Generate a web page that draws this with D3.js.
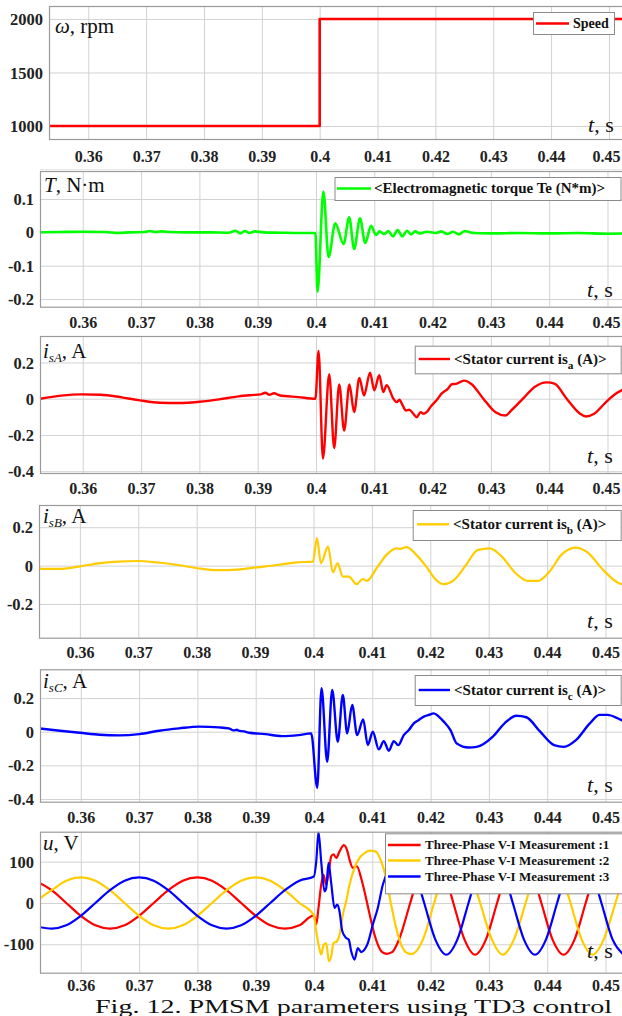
<!DOCTYPE html>
<html><head><meta charset="utf-8">
<script src="https://cdn.jsdelivr.net/npm/d3@7"></script>
<style>body{margin:0;background:#fff}svg{display:block}</style>
</head><body><svg id="c" width="622" height="1016"></svg>
<script>
// ---------------- data ----------------
const tickX = [0.36,0.37,0.38,0.39,0.40,0.41,0.42,0.43,0.44,0.45];
const tickXLabels = ["0.36","0.37","0.38","0.39","0.4","0.41","0.42","0.43","0.44","0.45"];

const speedTicks = [1000,1500,2000];
const torqueTicks = [-0.2,-0.1,0,0.1];
const isATicks = [-0.4,-0.2,0,0.2];
const isBTicks = [-0.2,0,0.2];
const isCTicks = [-0.4,-0.2,0,0.2];
const uTicks = [-100,0,100];

const speed = [[0.3527,1000],[0.4,1000],[0.4,2000],[0.4530,2000]];

const torque = [[0.3527,0.000],[0.356,0.001],[0.36,0.002],[0.364,0.001],[0.366,-0.002],[0.368,0],[0.3705,0.001],[0.3715,0.004],[0.3725,0.001],[0.3735,0.003],[0.375,0.001],[0.378,0],[0.382,0],[0.385,-0.001],[0.3862,0.005],[0.387,-0.003],[0.3878,0.004],[0.3886,-0.002],[0.3895,0.003],[0.391,0],[0.394,-0.001],[0.397,-0.002],[0.3999,-0.002],
[0.40026,-0.178],[0.40127,0.122],[0.40216,-0.074],[0.40331,0.027],[0.40474,-0.035],[0.40569,0.045],[0.40655,-0.05],[0.40755,0.042],[0.40845,-0.032],[0.40945,0.02],[0.4103,-0.008],[0.4109,0.003],[0.4117,-0.005],[0.4124,0.004],[0.4132,-0.012],[0.4140,0.007],[0.4148,-0.012],[0.4156,0.005],[0.4163,-0.006],[0.4170,0.003],[0.4178,-0.003],[0.419,0.002],[0.4205,-0.002],[0.4215,0.003],[0.4225,-0.005],[0.4235,0.002],[0.4245,-0.006],[0.4255,0.004],[0.427,-0.002],[0.43,-0.003],[0.435,-0.002],[0.44,-0.003],[0.445,-0.002],[0.45,-0.004],[0.4530,-0.003]];

const isA = [[0.3527,0],[0.35628,0.017],[0.35967,0.024],[0.36305,0.022],[0.36643,0.009],[0.36983,-0.009],[0.37321,-0.022],[0.3766,-0.024],[0.37998,-0.017],[0.38338,-0.004],[0.38674,0.013],[0.389,0.02],[0.3905,0.024],[0.3913,0.033],[0.392,0.022],[0.3928,0.03],[0.3937,0.019],[0.397,0.009],[0.3999,0.0],
[0.40044,0.264],[0.40119,-0.33],[0.40227,0.135],[0.40312,-0.272],[0.40398,0.079],[0.40483,-0.176],[0.40573,0.079],[0.40654,-0.074],[0.40744,0.114],[0.40824,0.018],[0.40927,0.144],[0.41,0.046],[0.41085,0.129],[0.41154,0.037],[0.41212,0.074],[0.41328,0],[0.41385,-0.019],[0.4143,-0.006],[0.41487,-0.037],[0.41543,-0.065],[0.416,-0.061],[0.41669,-0.083],[0.41727,-0.102],[0.41795,-0.074],[0.4184,-0.083],[0.41898,-0.074],[0.41983,-0.037],[0.42068,-0.009],[0.42154,0.028],[0.42266,0.056],[0.4233,0.08],[0.4240,0.082],[0.4254,0.1],[0.4267,0.08],[0.4287,0],[0.4308,-0.075],[0.4325,-0.093],[0.4335,-0.065],[0.4355,0],[0.4375,0.065],[0.4396,0.09],[0.4409,0.083],[0.4430,0],[0.4453,-0.083],[0.4463,-0.098],[0.4477,-0.083],[0.4497,-0.02],[0.4514,0.027],[0.4530,0.055]];

const isB = [[0.3527,-0.005],[0.3535,-0.017],[0.35635,-0.017],[0.35976,-0.005],[0.36316,0.012],[0.36655,0.021],[0.36997,0.024],[0.37336,0.016],[0.37677,0.003],[0.38017,-0.014],[0.38358,-0.024],[0.38697,-0.021],[0.39038,-0.009],[0.39379,0.003],[0.39719,0.017],[0.39991,0.021],
[0.4006,0.143],[0.40127,0.012],[0.4025,0.099],[0.40331,-0.035],[0.40413,0.012],[0.40502,-0.057],[0.40604,-0.057],[0.4074,-0.097],[0.40842,-0.07],[0.40911,-0.08],[0.4108,-0.014],[0.4125,0.056],[0.4142,0.09],[0.41489,0.087],[0.4159,0.096],[0.41762,0.056],[0.41931,-0.005],[0.42101,-0.075],[0.42237,-0.097],[0.42408,-0.075],[0.42612,0.003],[0.42816,0.082],[0.4302,0.09],[0.43225,0.047],[0.43463,-0.04],[0.43667,-0.08],[0.43837,-0.08],[0.44041,-0.031],[0.44245,0.056],[0.44484,0.094],[0.44688,0.07],[0.4496,-0.023],[0.45232,-0.092],[0.4530,-0.098]];

const isC = [[0.3527,0.02],[0.35643,0.006],[0.35984,-0.006],[0.36324,-0.018],[0.36664,-0.022],[0.37005,-0.014],[0.37345,0.006],[0.37686,0.02],[0.38026,0.03],[0.38367,0.026],[0.38537,0.02],[0.3862,0.008],[0.3868,0.012],[0.38705,0.006],[0.388,0.002],[0.3889,-0.006],[0.39163,-0.014],[0.39448,-0.026],[0.39734,-0.02],[0.39952,-0.01],
[0.40055,-0.333],[0.40129,0.258],[0.40226,-0.179],[0.40312,0.248],[0.40408,-0.06],[0.40494,0.218],[0.40569,-0.01],[0.40655,0.159],[0.4074,-0.02],[0.40843,0.073],[0.40922,-0.079],[0.41008,0],[0.41111,-0.105],[0.41197,-0.056],[0.41283,-0.113],[0.41369,-0.056],[0.41444,-0.08],[0.4154,-0.02],[0.41626,0.01],[0.41712,0.05],[0.41797,0.07],[0.41883,0.09],[0.41969,0.1],[0.42055,0.109],[0.4214,0.09],[0.42226,0.06],[0.42341,0.01],[0.42449,-0.07],[0.42655,-0.094],[0.4279,-0.09],[0.43063,-0.03],[0.43268,0.05],[0.43472,0.095],[0.43642,0.086],[0.4388,0],[0.44118,-0.08],[0.44288,-0.09],[0.44492,-0.05],[0.44731,0.05],[0.449,0.1],[0.45036,0.1],[0.45206,0.08],[0.4530,0.064]];

const u1 = [[0.3527,50],[0.355,31],[0.3575,0],[0.36,-31],[0.3625,-54],[0.365,-62],[0.3675,-54],[0.37,-31],[0.3725,0],[0.375,31],[0.3775,54],[0.38,62],[0.3825,54],[0.385,31],[0.3875,0],[0.39,-31],[0.3925,-54],[0.395,-62],[0.3975,-54],[0.39998,-30],
[0.40038,-52],[0.40077,-12],[0.40123,44],[0.40163,68],[0.40209,44],[0.40255,77],[0.40295,113],[0.40335,118],[0.40381,109],[0.40438,125],[0.40512,140],[0.40569,127],[0.40609,105],[0.40667,85],[0.40735,89],[0.40809,60],[0.40866,28],[0.40923,-8],[0.40981,-44],[0.41038,-77],[0.41095,-101],[0.41169,-119],[0.4125,-123],[0.4134,-119],[0.4146,-88],[0.4165,0],[0.4184,88],[0.42015,125],[0.4221,88],[0.4239,0],[0.4258,-88],[0.4276,-125],[0.4295,-88],[0.4314,0],[0.4333,88],[0.4352,125],[0.4371,88],[0.4390,0],[0.4409,-88],[0.4428,-125],[0.4447,-88],[0.4466,0],[0.4485,88],[0.4504,125],[0.4523,88],[0.4542,0]];

const u2 = [[0.3527,8],[0.355,31],[0.3575,54],[0.36,62],[0.3625,54],[0.365,31],[0.3675,0],[0.37,-31],[0.3725,-54],[0.375,-62],[0.3775,-54],[0.38,-31],[0.3825,0],[0.385,31],[0.3875,54],[0.39,62],[0.3925,54],[0.395,31],[0.3975,0],[0.39998,-30],
[0.40038,-69],[0.40084,-105],[0.40123,-125],[0.40163,-102],[0.40209,-97],[0.40255,-141],[0.40295,-129],[0.40335,-97],[0.40392,-93],[0.40438,-77],[0.40495,-28],[0.40552,4],[0.40609,44],[0.40695,85],[0.4078,109],[0.40866,121],[0.40952,127],[0.41055,125],[0.41152,101],[0.41238,60],[0.41323,-4],[0.41409,-60],[0.41495,-101],[0.41581,-120],[0.4167,-124],[0.4187,-88],[0.4206,0],[0.4226,88],[0.42455,125],[0.4265,88],[0.4285,0],[0.4305,-88],[0.4324,-125],[0.4343,-88],[0.4363,0],[0.4382,88],[0.4401,125],[0.4420,88],[0.4440,0],[0.4459,-88],[0.4478,-125],[0.4497,-88],[0.4517,0],[0.4536,88]];

const u3 = [[0.3527,-58],[0.355,-62],[0.3575,-54],[0.36,-31],[0.3625,0],[0.365,31],[0.3675,54],[0.37,62],[0.3725,54],[0.375,31],[0.3775,0],[0.38,-31],[0.3825,-54],[0.385,-62],[0.3875,-54],[0.39,-31],[0.3925,0],[0.395,31],[0.3975,54],[0.39998,64],
[0.40038,100],[0.40077,172],[0.40123,101],[0.4018,28],[0.40209,36],[0.40249,97],[0.40295,48],[0.40352,-12],[0.40398,-4],[0.40437,-20],[0.40484,-68],[0.40552,-85],[0.40597,-89],[0.40638,-117],[0.40695,-137],[0.40751,-109],[0.4081,-119],[0.40866,-113],[0.40923,-97],[0.41009,-52],[0.41094,-12],[0.4118,44],[0.41295,85],[0.4151,125],[0.4170,88],[0.4189,0],[0.4208,-88],[0.4227,-125],[0.4246,-88],[0.4265,0],[0.4284,88],[0.4303,125],[0.4322,88],[0.4341,0],[0.4360,-88],[0.4379,-125],[0.4398,-88],[0.4417,0],[0.4436,88],[0.4455,125],[0.4474,88],[0.4493,0],[0.4512,-88],[0.4531,-125]];

const legendTexts = {
  speed: "Speed",
  torque: "<Electromagnetic torque Te (N*m)>",
  u: ["Three-Phase V-I Measurement :1","Three-Phase V-I Measurement :2","Three-Phase V-I Measurement :3"]
};
const caption = "Fig. 12. PMSM parameters using TD3 control";

// ---------------- drawing ----------------
const FONT = "'Liberation Serif','Times New Roman',serif";
const RED = "#ff0000", GREEN = "#00ff00", YEL = "#ffcc00", BLUE = "#0000ff";
const svg = d3.select("#c");
const defs = svg.append("defs");

const panels = [
 {id:1, xd:[0.35321,0.45243], left:49, top:6, bottom:139, yd:[878.5,2121], yt:speedTicks, lab:23,
  series:[{d:speed,c:RED,w:2.6,curve:d3.curveLinear}], ylabel:[["ω","italic"],[", rpm","normal"]], yl:[55,33], tl:[588,132],
  legend:{box:[533,12,81,22], items:[{y:23.5,c:RED,t:[[legendTexts.speed]]}], lx:[536,569], tx:573, fs:14}},
 {id:2, xd:[0.35266,0.45266], left:40, top:171, bottom:306.7, yd:[-0.223,0.184], yt:torqueTicks, lab:21.5,
  series:[{d:torque,c:GREEN,w:2.6}], ylabel:[["T","italic"],[", N·m","normal"]], yl:[44,192], tl:[587,297],
  legend:{box:[334.5,177,286,23], items:[{y:188.5,c:GREEN,t:[[legendTexts.torque]]}], lx:[337,371], tx:374, fs:15}},
 {id:3, xd:[0.35266,0.45266], left:40, top:336, bottom:473, yd:[-0.41,0.346], yt:isATicks, lab:20.5,
  series:[{d:isA,c:RED,w:2.4}], ylabel:[["i","italic"],["sA","sub"],[", A","normal"]], yl:[43,358], tl:[587,463],
  legend:{box:[414.7,345.7,206,27.6], items:[{y:359,c:RED,t:[["<Stator current is"],["a","sub"],[" (A)>"]]}], lx:[418.7,450], tx:454, fs:15}},
 {id:4, xd:[0.35300,0.45300], left:39, top:505, bottom:637.7, yd:[-0.376,0.316], yt:isBTicks, lab:20.5,
  series:[{d:isB,c:YEL,w:2.2}], ylabel:[["i","italic"],["sB","sub"],[", A","normal"]], yl:[43,523], tl:[587,628],
  legend:{box:[412.7,510,208,30], items:[{y:524.3,c:YEL,t:[["<Stator current is"],["b","sub"],[" (A)>"]]}], lx:[417,449], tx:453, fs:15}},
 {id:5, xd:[0.35300,0.45300], left:40, top:669.3, bottom:801.7, yd:[-0.416,0.371], yt:isCTicks, lab:21.3,
  series:[{d:isC,c:BLUE,w:2.4}], ylabel:[["i","italic"],["sC","sub"],[", A","normal"]], yl:[43,688], tl:[587,792],
  legend:{box:[414.7,675,206,30], items:[{y:690,c:BLUE,t:[["<Stator current is"],["c","sub"],[" (A)>"]]}], lx:[418.7,450], tx:454, fs:15}},
 {id:6, xd:[0.35300,0.45300], left:40, top:831.7, bottom:972.7, yd:[-168.8,172.6], yt:uTicks, lab:18.5,
  series:[{d:u1,c:RED,w:2.2},{d:u2,c:YEL,w:2.2},{d:u3,c:BLUE,w:2.2}], ylabel:[["u","italic"],[", V","normal"]], yl:[43,850], tl:[587,958],
  legend:{box:[385,833.3,237,60], items:[{y:845,c:RED,t:[[legendTexts.u[0]]]},{y:860.5,c:YEL,t:[[legendTexts.u[1]]]},{y:876.5,c:BLUE,t:[[legendTexts.u[2]]]}], lx:[388,420.6], tx:425, fs:13}}
];

const RIGHT = 623;
const TICKFS = 16;
panels.forEach(p => {
  const g = svg.append("g");
  const x = d3.scaleLinear().domain(p.xd).range([p.left, RIGHT]);
  const y = d3.scaleLinear().domain(p.yd).range([p.bottom, p.top]);
  const cid = "clip" + p.id;
  defs.append("clipPath").attr("id", cid).append("rect")
    .attr("x", p.left).attr("y", p.top).attr("width", RIGHT - p.left).attr("height", p.bottom - p.top);

  // grid
  g.append("g").attr("transform", `translate(0,${p.bottom})`)
    .call(d3.axisBottom(x).tickValues(tickX).tickSize(-(p.bottom - p.top)).tickFormat(""))
    .call(a => { a.select(".domain").remove(); a.selectAll("line").attr("stroke", "#d2d2d2").attr("stroke-width", 1); });
  g.append("g").attr("transform", `translate(${p.left},0)`)
    .call(d3.axisLeft(y).tickValues(p.yt).tickSize(-(RIGHT - p.left)).tickFormat(""))
    .call(a => { a.select(".domain").remove(); a.selectAll("line").attr("stroke", "#d2d2d2").attr("stroke-width", 1); });

  // series
  p.series.forEach(s => {
    g.append("path").datum(s.d)
      .attr("clip-path", `url(#${cid})`)
      .attr("fill", "none").attr("stroke", s.c).attr("stroke-width", s.w)
      .attr("stroke-linejoin", "round")
      .attr("d", d3.line().x(d => x(d[0])).y(d => y(d[1])).curve(s.curve || d3.curveMonotoneX));
  });

  // border
  g.append("rect").attr("x", p.left + 0.5).attr("y", p.top + 0.5)
    .attr("width", RIGHT - p.left).attr("height", p.bottom - p.top)
    .attr("fill", "none").attr("stroke", "#9a9a9a").attr("stroke-width", 1.2);

  // x tick labels
  g.append("g").attr("transform", `translate(0,${p.bottom})`)
    .call(d3.axisBottom(x).tickValues(tickX).tickSize(0).tickFormat((d, i) => tickXLabels[i]))
    .call(a => {
      a.select(".domain").remove();
      a.selectAll("text").attr("y", p.lab).attr("dy", null)
        .attr("dx", (d, i) => i === tickX.length - 1 ? Math.min(0, 606 - x(d)) : 0)
        .attr("font-family", FONT).attr("font-weight", "bold").attr("font-size", TICKFS).attr("fill", "#222");
    });
  // y tick labels
  g.append("g").attr("transform", `translate(${p.left},0)`)
    .call(d3.axisLeft(y).tickValues(p.yt).tickSize(0).tickPadding(6).tickFormat(d => String(d)))
    .call(a => {
      a.select(".domain").remove();
      a.selectAll("text").attr("dy", "0.34em")
        .attr("font-family", FONT).attr("font-weight", "bold").attr("font-size", 16.5).attr("fill", "#222");
    });

  // y quantity label
  const yl = g.append("text").attr("x", p.yl[0]).attr("y", p.yl[1])
    .attr("font-family", FONT).attr("font-size", 21).attr("fill", "#111");
  p.ylabel.forEach(([t, st]) => {
    const ts = yl.append("tspan").text(t);
    if (st === "italic") ts.attr("font-style", "italic");
    if (st === "sub") { ts.attr("font-style", "italic").attr("font-size", 13).attr("dy", 4); }
    if (st === "normal" && p.ylabel.some(e => e[1] === "sub")) ts.attr("dy", -4);
  });
  // t, s label
  const tl = g.append("text").attr("x", p.tl[0]).attr("y", p.tl[1])
    .attr("font-family", FONT).attr("font-size", 22).attr("fill", "#111");
  tl.append("tspan").attr("font-style", "italic").text("t");
  tl.append("tspan").text(", s");

  // legend
  const L = p.legend;
  g.append("rect").attr("x", L.box[0] + 0.5).attr("y", L.box[1] + 0.5).attr("width", L.box[2]).attr("height", L.box[3])
    .attr("fill", "#fff").attr("stroke", "#8a8a8a").attr("stroke-width", 1);
  L.items.forEach(it => {
    g.append("line").attr("x1", L.lx[0]).attr("x2", L.lx[1]).attr("y1", it.y).attr("y2", it.y)
      .attr("stroke", it.c).attr("stroke-width", 2.4);
    const tx = g.append("text").attr("x", L.tx).attr("y", it.y + L.fs * 0.33)
      .attr("font-family", FONT).attr("font-weight", "bold").attr("font-size", L.fs).attr("fill", "#111");
    it.t.forEach(([t, st]) => {
      const ts = tx.append("tspan").text(t);
      if (st === "sub") ts.attr("font-size", L.fs * 0.75).attr("dy", 5);
      else if (it.t.length > 1 && t.startsWith(" ")) ts.attr("dy", -5);
    });
  });
});

// separator line under top panel
svg.append("line").attr("x1", 40).attr("x2", 622).attr("y1", 169.5).attr("y2", 169.5).attr("stroke", "#e6e6e6");

// caption
svg.append("text").attr("x", 353.5).attr("y", 1012.5).attr("text-anchor", "middle")
  .attr("font-family", FONT).attr("font-size", 19.5).attr("fill", "#111")
  .attr("textLength", 517).attr("lengthAdjust", "spacingAndGlyphs")
  .text(caption);
</script></body></html>
